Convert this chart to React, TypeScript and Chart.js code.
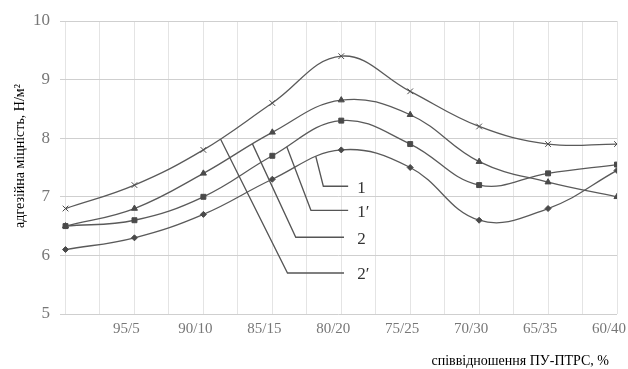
import React, { useEffect, useRef } from "react";
import { Chart, registerables } from "chart.js";
Chart.register(...registerables);

const categories = ["", "95/5", "90/10", "85/15", "80/20", "75/25", "70/30", "65/35", "60/40"];
const series1 = [6.8, 7.2, 7.8, 8.6, 9.4, 8.8, 8.2, 7.9, 7.9]; // crosses
const series2 = [6.5, 6.8, 7.4, 8.1, 8.65, 8.4, 7.6, 7.25, 7.0]; // triangles
const series3 = [6.5, 6.6, 7.0, 7.7, 8.3, 7.9, 7.2, 7.4, 7.55]; // squares
const series4 = [6.1, 6.3, 6.7, 7.3, 7.8, 7.5, 6.6, 6.8, 7.45]; // diamonds
const yTicks = [5, 6, 7, 8, 9, 10];

const calloutLabels = ["1", "1\u2032", "2", "2\u2032"];
const calloutSeries = [3, 2, 1, 0];
const calloutStartX = [3.63, 3.21, 2.71, 2.25];
const calloutElbowX = [3.74, 3.56, 3.34, 3.22];
const calloutElbowY = [7.18, 6.77, 6.31, 5.7];
const calloutEndX = [4.1, 4.1, 4.04, 4.04];

const yTitle = "адгезійна міцність, Н/м²";
const xTitle = "співвідношення ПУ-ПТРС, %";

const SERIF = "'Liberation Serif', 'DejaVu Serif', serif";

const toPts = (arr: number[]) => arr.map((v, i) => ({ x: i, y: v }));

function curveYAt(points: any[], px: number): number {
  for (let i = 0; i < points.length - 1; i++) {
    const a = points[i];
    const b = points[i + 1];
    if (px >= a.x && px <= b.x) {
      const P0x = a.x, P0y = a.y;
      const P1x = a.cp2x ?? a.x, P1y = a.cp2y ?? a.y;
      const P2x = b.cp1x ?? b.x, P2y = b.cp1y ?? b.y;
      const P3x = b.x, P3y = b.y;
      const bz = (t: number, p0: number, p1: number, p2: number, p3: number) => {
        const u = 1 - t;
        return u * u * u * p0 + 3 * u * u * t * p1 + 3 * u * t * t * p2 + t * t * t * p3;
      };
      let lo = 0, hi = 1;
      for (let k = 0; k < 40; k++) {
        const mid = (lo + hi) / 2;
        if (bz(mid, P0x, P1x, P2x, P3x) < px) lo = mid;
        else hi = mid;
      }
      return bz((lo + hi) / 2, P0y, P1y, P2y, P3y);
    }
  }
  return points[points.length - 1].y;
}

const calloutPlugin = {
  id: "callouts",
  afterDatasetsDraw(chart: any) {
    const { ctx, scales } = chart;
    const xs = scales.x;
    const ys = scales.y;
    ctx.save();
    ctx.strokeStyle = "#555";
    ctx.lineWidth = 1.3;
    ctx.fillStyle = "#333";
    ctx.font = `17px ${SERIF}`;
    ctx.textBaseline = "middle";
    ctx.textAlign = "left";
    calloutLabels.forEach((lab, k) => {
      const pts = chart.getDatasetMeta(calloutSeries[k]).data;
      const x0 = xs.getPixelForValue(calloutStartX[k]);
      const y0 = curveYAt(pts, x0);
      const x1 = xs.getPixelForValue(calloutElbowX[k]);
      const y1 = ys.getPixelForValue(calloutElbowY[k]);
      const x2 = xs.getPixelForValue(calloutEndX[k]);
      ctx.beginPath();
      ctx.moveTo(x0, y0);
      ctx.lineTo(x1, y1);
      ctx.lineTo(x2, y1);
      ctx.stroke();
      ctx.fillText(lab, xs.getPixelForValue(4.1) + 9, y1 + 2);
    });
    ctx.restore();
  },
  afterDraw(chart: any) {
    const { ctx } = chart;
    ctx.save();
    ctx.fillStyle = "#000";
    ctx.font = `14px ${SERIF}`;
    ctx.textAlign = "center";
    ctx.textBaseline = "middle";
    ctx.translate(20, 156);
    ctx.rotate(-Math.PI / 2);
    ctx.fillText(yTitle, 0, 0);
    ctx.restore();
    ctx.save();
    ctx.fillStyle = "#000";
    ctx.font = `14px ${SERIF}`;
    ctx.textAlign = "right";
    ctx.textBaseline = "middle";
    ctx.fillText(xTitle, 609, 361);
    ctx.restore();
  },
};

export default function App() {
  const ref = useRef<HTMLCanvasElement | null>(null);
  useEffect(() => {
    document.body.style.margin = "0";
    const lineColor = "#5a5a5a";
    const mk = (data: number[], style: string, r: number) => ({
      data: toPts(data),
      borderColor: lineColor,
      borderWidth: 1.3,
      pointStyle: style,
      pointRadius: r,
      pointBackgroundColor: "#4a4a4a",
      pointBorderColor: "#4a4a4a",
      pointBorderWidth: 1,
      tension: 0.4,
      fill: false,
    });
    const chart = new Chart(ref.current as HTMLCanvasElement, {
      type: "line",
      data: {
        datasets: [
          mk(series1, "crossRot", 4),
          mk(series2, "triangle", 3.5),
          mk(series3, "rect", 3.5),
          mk(series4, "rectRot", 3),
        ] as any,
      },
      options: {
        animation: false,
        responsive: true,
        maintainAspectRatio: false,
        layout: { padding: { top: 21, right: 11, left: 0, bottom: 0 } },
        plugins: { legend: { display: false }, tooltip: { enabled: false } },
        scales: {
          x: {
            type: "linear",
            min: -0.08,
            max: 8,
            afterBuildTicks(scale: any) {
              const t: any[] = [];
              for (let i = 0; i <= 16; i++) t.push({ value: i / 2 });
              scale.ticks = t;
            },
            afterFit(scale: any) {
              scale.height = 55;
              scale.paddingLeft = 0;
              scale.paddingRight = 0;
            },
            grid: { color: "#e4e4e4", drawTicks: false, lineWidth: 1 },
            border: { display: false },
            ticks: {
              autoSkip: false,
              maxRotation: 0,
              padding: 6,
              labelOffset: -8,
              color: "#777",
              font: { family: SERIF, size: 15 },
              callback: (v: any) => (Number.isInteger(v) ? categories[v] : ""),
            },
          },
          y: {
            type: "linear",
            min: 5,
            max: 10,
            afterBuildTicks(scale: any) {
              scale.ticks = yTicks.map((v) => ({ value: v }));
            },
            afterFit(scale: any) {
              scale.width = 60;
            },
            grid: { color: "#cfcfcf", drawTicks: false, lineWidth: 1 },
            border: { display: false },
            ticks: {
              padding: 10,
              color: "#777",
              font: { family: SERIF, size: 17 },
            },
          },
        },
      },
      plugins: [calloutPlugin],
    } as any);
    return () => chart.destroy();
  }, []);
  return (
    <div style={{ position: "relative", width: 628, height: 369 }}>
      <canvas ref={ref} />
    </div>
  );
}
